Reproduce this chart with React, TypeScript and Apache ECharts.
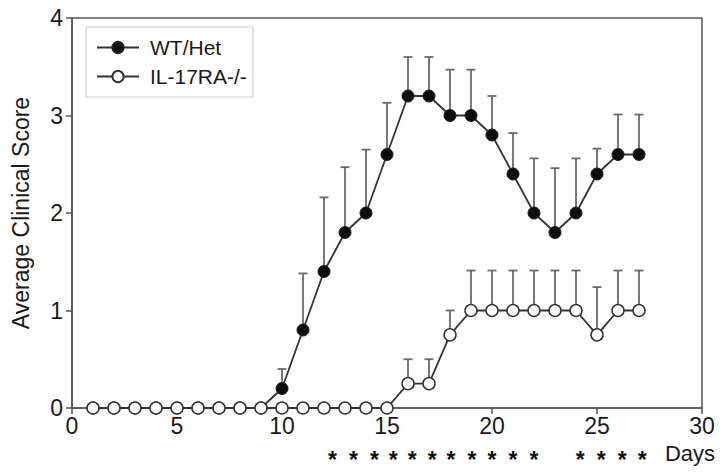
import React, { useEffect, useRef } from "react";
import * as echarts from "echarts";

const days = [1, 2, 3, 4, 5, 6, 7, 8, 9, 10, 11, 12, 13, 14, 15, 16, 17, 18, 19, 20, 21, 22, 23, 24, 25, 26, 27];
const wtMean = [0, 0, 0, 0, 0, 0, 0, 0, 0, 0.2, 0.8, 1.4, 1.8, 2.0, 2.6, 3.2, 3.2, 3.0, 3.0, 2.8, 2.4, 2.0, 1.8, 2.0, 2.4, 2.6, 2.6];
const wtErr = [0, 0, 0, 0, 0, 0, 0, 0, 0, 0.2, 0.58, 0.76, 0.67, 0.65, 0.53, 0.4, 0.4, 0.47, 0.47, 0.4, 0.42, 0.56, 0.66, 0.56, 0.26, 0.41, 0.41];
const koMean = [0, 0, 0, 0, 0, 0, 0, 0, 0, 0, 0, 0, 0, 0, 0, 0.25, 0.25, 0.75, 1, 1, 1, 1, 1, 1, 0.75, 1, 1];
const koErr = [0, 0, 0, 0, 0, 0, 0, 0, 0, 0, 0, 0, 0, 0, 0, 0.25, 0.25, 0.25, 0.41, 0.41, 0.41, 0.41, 0.41, 0.41, 0.49, 0.41, 0.41];
const xTicks = [0, 5, 10, 15, 20, 25, 30];
const yTicks = [0, 1, 2, 3, 4];
const starDays = [12.4, 13.4, 14.4, 15.3, 16.2, 17.15, 18.05, 19.05, 20, 21, 22, 24.2, 25.2, 26.2, 27.15];

const FONT = "'Liberation Sans', Arial, sans-serif";
const LINE = "#333";
const ERR = "#6a6a6a";
const AXIS = "#555";

function errRender(params: any, api: any) {
  const x = api.value(0);
  const y = api.value(1);
  const e = api.value(2);
  if (!e) return null;
  const p0 = api.coord([x, y]);
  const p1 = api.coord([x, y + e]);
  const st = { stroke: ERR, lineWidth: 1.8 };
  return {
    type: "group",
    children: [
      { type: "line", shape: { x1: p0[0], y1: p0[1], x2: p1[0], y2: p1[1] }, style: st },
      { type: "line", shape: { x1: p1[0] - 4.5, y1: p1[1], x2: p1[0] + 4.5, y2: p1[1] }, style: st },
    ],
  };
}

function starRender(params: any, api: any) {
  const p = api.coord([api.value(0), 0]);
  return {
    type: "text",
    x: p[0],
    y: p[1] + 52,
    style: { text: "*", fill: "#111", font: `bold 23px ${FONT}`, align: "center", verticalAlign: "middle" },
  };
}

export default function App() {
  const ref = useRef<HTMLDivElement>(null);
  useEffect(() => {
    if (!ref.current) return;
    const chart = echarts.init(ref.current, null, { renderer: "svg" });
    chart.setOption({
      animation: false,
      textStyle: { fontFamily: FONT },
      grid: { left: 72, right: 23, top: 18, bottom: 66, show: true, borderColor: AXIS, borderWidth: 1.5, backgroundColor: "transparent" },
      legend: {
        left: 86,
        top: 27,
        orient: "vertical",
        data: ["WT/Het", "IL-17RA-/-"],
        itemWidth: 42,
        itemHeight: 14,
        itemGap: 8,
        padding: [10, 6, 10, 10],
        borderColor: "#cfcfcf",
        borderWidth: 1.2,
        textStyle: { fontSize: 21, color: "#1a1a1a", fontFamily: FONT, padding: [0, 0, 0, 6] },
      },
      xAxis: {
        type: "value",
        min: 0,
        max: 30,
        interval: 5,
        axisLine: { show: true, onZero: false, lineStyle: { color: AXIS, width: 1.5 } },
        axisTick: { show: true, length: 6, lineStyle: { color: AXIS, width: 1.5 } },
        axisLabel: { fontSize: 23, color: "#1a1a1a", margin: 6, fontFamily: FONT, formatter: (v: number) => (xTicks.includes(v) ? String(v) : "") },
        splitLine: { show: false },
      },
      yAxis: {
        type: "value",
        min: 0,
        max: 4,
        interval: 1,
        name: "Average Clinical Score",
        nameLocation: "middle",
        nameGap: 40,
        nameTextStyle: { fontSize: 23, color: "#1a1a1a", fontFamily: FONT },
        axisLine: { show: true, lineStyle: { color: AXIS, width: 1.5 } },
        axisTick: { show: true, length: 6, lineStyle: { color: AXIS, width: 1.5 } },
        axisLabel: { fontSize: 23, color: "#1a1a1a", margin: 9, fontFamily: FONT, formatter: (v: number) => (yTicks.includes(v) ? String(v) : "") },
        splitLine: { show: false },
      },
      graphic: [
        { type: "text", right: 10, top: 442, style: { text: "Days", font: `22px ${FONT}`, fill: "#1a1a1a" } },
      ],
      series: [
        {
          type: "custom",
          name: "wtErr",
          renderItem: errRender,
          data: days.map((d, i) => [d, wtMean[i], wtErr[i]]),
          encode: { x: 0, y: 1 },
          z: 1,
          silent: true,
        },
        {
          type: "custom",
          name: "koErr",
          renderItem: errRender,
          data: days.map((d, i) => [d, koMean[i], koErr[i]]),
          encode: { x: 0, y: 1 },
          z: 1,
          silent: true,
        },
        {
          type: "line",
          name: "WT/Het",
          data: days.map((d, i) => [d, wtMean[i]]),
          symbol: "circle",
          symbolSize: 12,
          lineStyle: { color: LINE, width: 1.8 },
          itemStyle: { color: "#0d0d0d", borderColor: "#222", borderWidth: 1 },
          z: 3,
        },
        {
          type: "line",
          name: "IL-17RA-/-",
          data: days.map((d, i) => [d, koMean[i]]),
          symbol: "circle",
          symbolSize: 12,
          showAllSymbol: true,
          lineStyle: { color: LINE, width: 1.8 },
          itemStyle: { color: "#ffffff", borderColor: "#333", borderWidth: 1.5 },
          z: 4,
        },
        {
          type: "custom",
          name: "stars",
          renderItem: starRender,
          data: starDays.map((d) => [d, 0]),
          encode: { x: 0, y: 1 },
          clip: false,
          z: 5,
          silent: true,
        },
      ],
    });
    return () => chart.dispose();
  }, []);
  return <div ref={ref} style={{ width: 725, height: 474, position: "absolute", left: 0, top: 0 }} />;
}
